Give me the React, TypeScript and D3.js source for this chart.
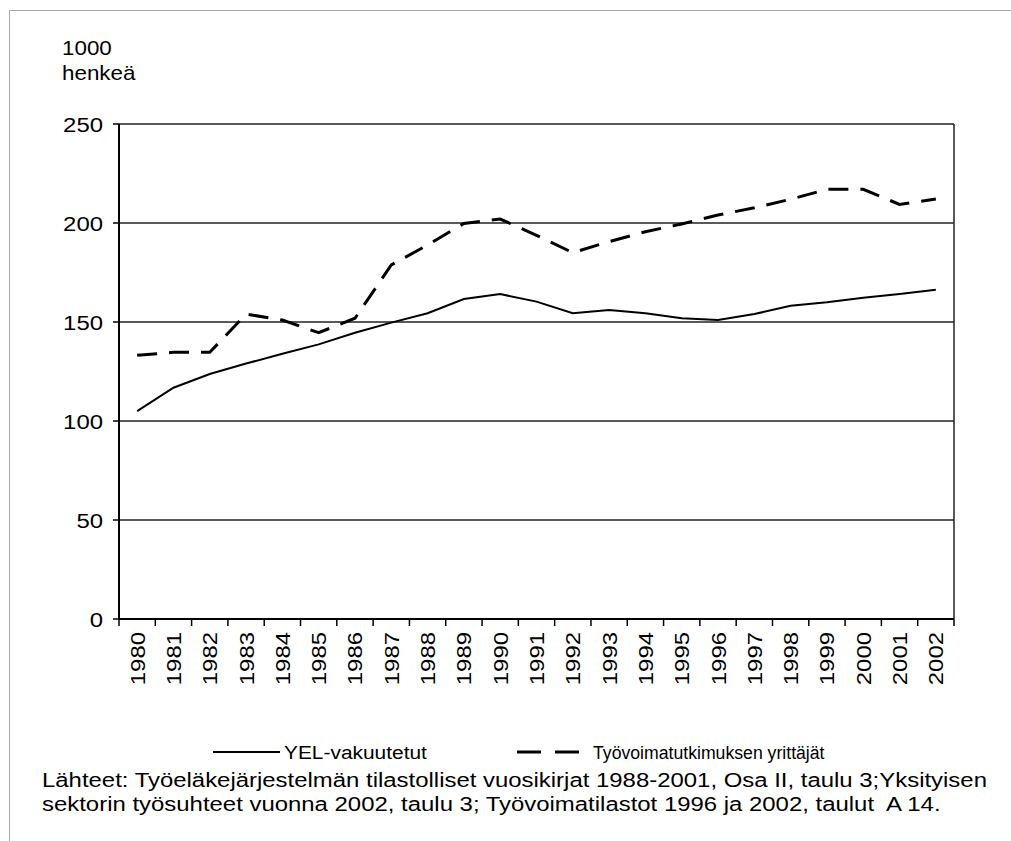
import React from "react";
import * as d3 from "d3";

const years = ["1980","1981","1982","1983","1984","1985","1986","1987","1988","1989","1990","1991","1992","1993","1994","1995","1996","1997","1998","1999","2000","2001","2002"];
const yelValues = [105, 116.8, 123.7, 129, 134, 138.7, 144.6, 149.7, 154.4, 161.6, 164.1, 160.3, 154.4, 156, 154.4, 151.9, 151, 154, 158.2, 160, 162.3, 164.1, 166.3];
const tyoValues = [133.2, 134.7, 134.7, 154, 151, 144.6, 151.9, 178.8, 188.9, 199.8, 202, 193.8, 185, 190.6, 195.6, 199.5, 204, 207.7, 212, 217, 217, 209.4, 212.1];
const yTicks = [0, 50, 100, 150, 200, 250];
const seriesNames = ["YEL-vakuutetut", "Työvoimatutkimuksen yrittäjät"];
const unitLines = ["1000", "henkeä"];
const sourceLines = [
  "Lähteet: Työeläkejärjestelmän tilastolliset vuosikirjat 1988-2001, Osa II, taulu 3;Yksityisen",
  "sektorin työsuhteet vuonna 2002, taulu 3; Työvoimatilastot 1996 ja 2002, taulut  A 14.",
];

const FONT = "'Liberation Sans', Arial, sans-serif";
const SX = 1.14;
const FS = 21;

function T({ x, y, rot = 0, anchor = "start", size = FS, sx = SX, children }: any) {
  return (
    <text
      transform={`translate(${x},${y}) rotate(${rot}) scale(${sx},1)`}
      textAnchor={anchor}
      fontSize={size}
      fill="#000"
      style={{ whiteSpace: "pre" }}
    >
      {children}
    </text>
  );
}

export default function App() {
  const left = 119, right = 954, top = 124, bottom = 619;
  const x = d3.scaleBand<string>().domain(years).range([left, right]);
  const y = d3.scaleLinear().domain([0, 250]).range([bottom, top]);
  const cx = (yr: string) => (x(yr) as number) + x.bandwidth() / 2;
  const line = d3.line<number>().x((_, i) => cx(years[i])).y((v) => y(v));
  const boundaries = years.map((yr) => x(yr) as number).concat([right]);

  return (
    <svg width={1011} height={841} style={{ position: "absolute", left: 0, top: 0, background: "#fff" }} fontFamily={FONT}>
      <rect x={0} y={0} width={1011} height={841} fill="#fff" />
      <rect x={9.5} y={10.5} width={1100} height={900} fill="none" stroke="#555" strokeWidth={1} strokeDasharray="1,1" />
      {unitLines.map((t, i) => (
        <T key={t} x={62} y={55 + i * 25} size={20} sx={1.12}>{t}</T>
      ))}
      {yTicks.filter((t) => t > 0).map((t) => (
        <line key={t} x1={left} x2={right} y1={y(t)} y2={y(t)} stroke="#222" strokeWidth={1.5} />
      ))}
      <line x1={right} x2={right} y1={top} y2={bottom} stroke="#222" strokeWidth={1.5} />
      <line x1={left} x2={left} y1={top} y2={bottom} stroke="#000" strokeWidth={2} />
      <line x1={left} x2={right} y1={bottom} y2={bottom} stroke="#000" strokeWidth={2} />
      {yTicks.map((t) => (
        <g key={t}>
          <line x1={left - 6} x2={left} y1={y(t)} y2={y(t)} stroke="#000" strokeWidth={1.5} />
          <T x={103} y={y(t) + 7.5} anchor="end">{t}</T>
        </g>
      ))}
      {boundaries.map((b, i) => (
        <line key={i} x1={b} x2={b} y1={bottom} y2={bottom + 7} stroke="#000" strokeWidth={1.5} />
      ))}
      {years.map((yr) => (
        <T key={yr} x={cx(yr) + 7.5} y={632} rot={-90} anchor="end">{yr}</T>
      ))}
      <path d={line(yelValues) || ""} fill="none" stroke="#000" strokeWidth={2} />
      <path d={line(tyoValues) || ""} fill="none" stroke="#000" strokeWidth={3} strokeDasharray="20,12" />
      <line x1={213} x2={280} y1={752} y2={752} stroke="#000" strokeWidth={2} />
      <T x={284} y={759} size={19} sx={1.1}>{seriesNames[0]}</T>
      <line x1={517} x2={587} y1={752} y2={752} stroke="#000" strokeWidth={3} strokeDasharray="24,14" />
      <T x={593} y={759} size={19} sx={0.93}>{seriesNames[1]}</T>
      {sourceLines.map((t, i) => (
        <T key={i} x={42} y={787 + i * 24}>{t}</T>
      ))}
    </svg>
  );
}
